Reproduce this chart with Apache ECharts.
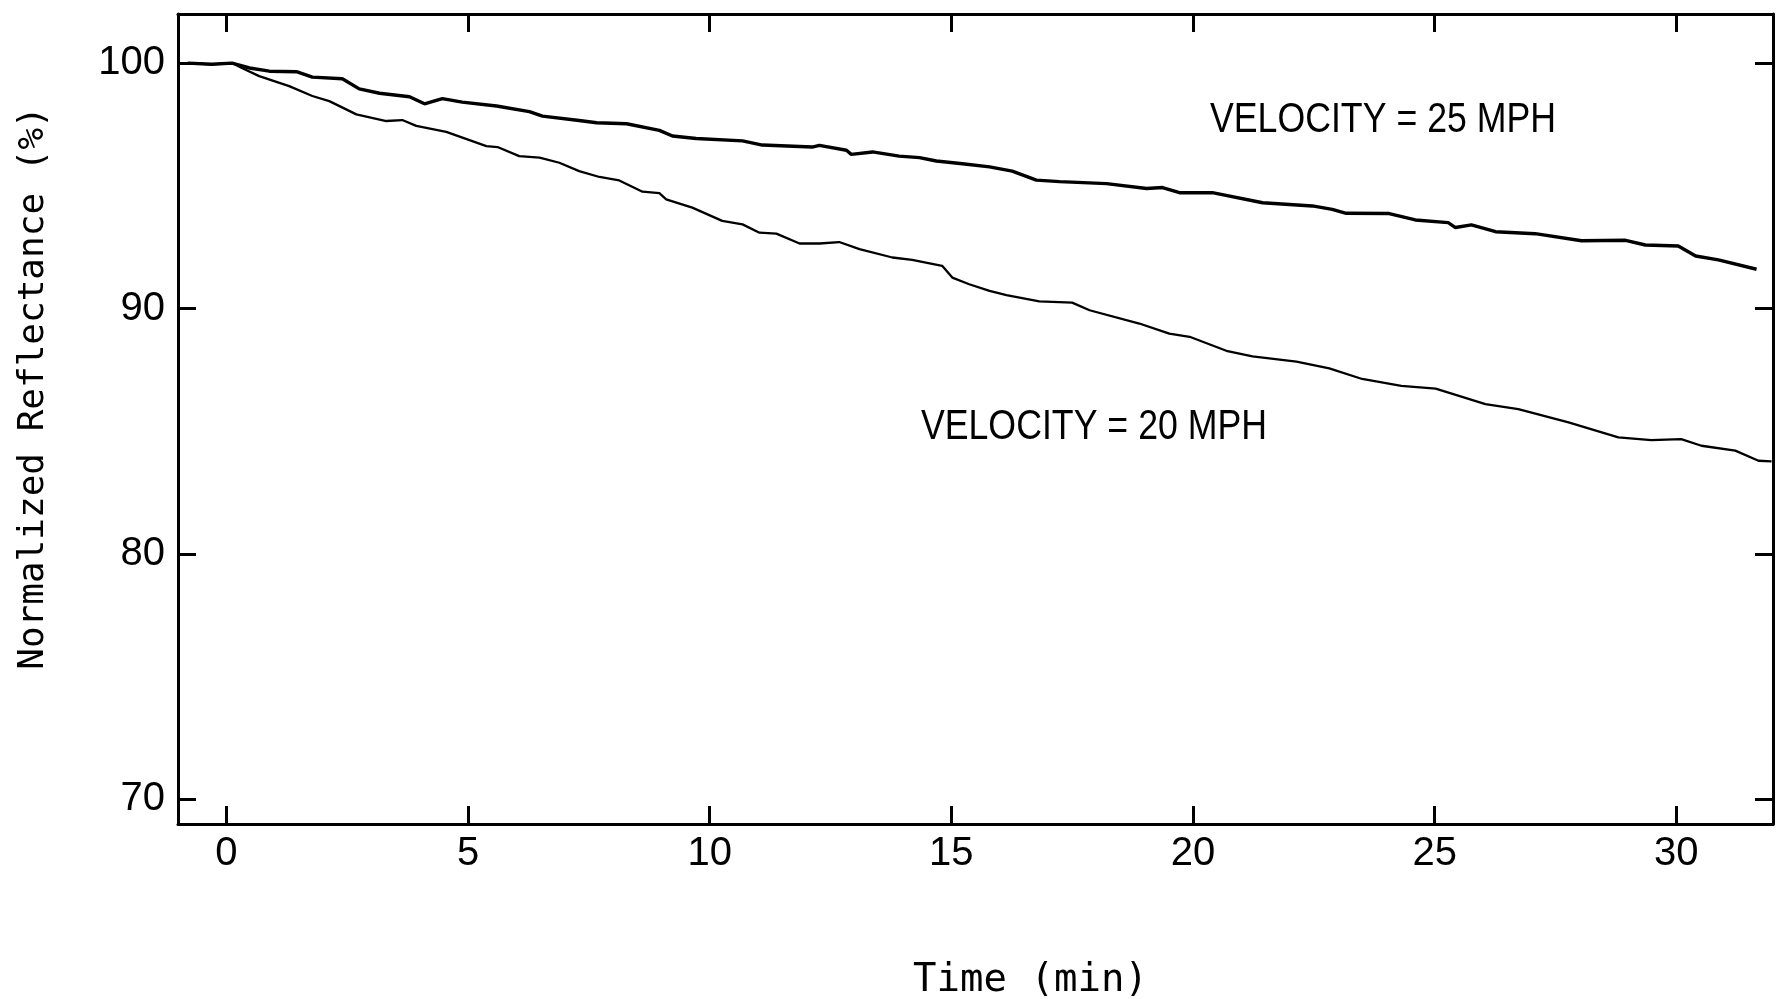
<!DOCTYPE html>
<html>
<head>
<meta charset="utf-8">
<script src="https://cdn.jsdelivr.net/npm/echarts@6/dist/echarts.min.js"></script>
<style>
html,body{margin:0;padding:0;background:#fff;}
#chart{width:1777px;height:999px;}
</style>
</head>
<body>
<div id="chart"></div>
<script>
// ---- data ----
const timeTicks = [0, 5, 10, 15, 20, 25, 30];
const reflTicks = [70, 80, 90, 100];

const time25 = [-0.8, -0.3, 0.12, 0.48, 0.89, 1.45, 1.78, 2.4, 2.75, 3.17, 3.79, 4.1, 4.47, 4.88, 5.59, 6.27, 6.54, 7.3, 7.66, 8.28, 8.96, 9.23, 9.72, 10.68, 11.09, 12.12, 12.27, 12.83, 12.93, 13.37, 13.92, 14.34, 14.69, 15.23, 15.79, 16.26, 16.76, 17.24, 18.21, 19.04, 19.37, 19.72, 20.4, 21.44, 22.47, 22.88, 23.17, 24.06, 24.6, 25.28, 25.43, 25.76, 26.26, 27.08, 28.04, 28.95, 29.36, 30.04, 30.4, 30.87, 31.66];
const refl25 = [100.0, 99.95, 100.0, 99.8, 99.67, 99.65, 99.43, 99.36, 98.95, 98.77, 98.63, 98.34, 98.55, 98.41, 98.25, 98.02, 97.84, 97.66, 97.57, 97.53, 97.26, 97.03, 96.93, 96.83, 96.66, 96.58, 96.65, 96.45, 96.28, 96.38, 96.21, 96.15, 96.01, 95.9, 95.77, 95.6, 95.23, 95.17, 95.09, 94.89, 94.93, 94.72, 94.72, 94.31, 94.18, 94.04, 93.88, 93.87, 93.61, 93.5, 93.3, 93.41, 93.13, 93.05, 92.76, 92.78, 92.59, 92.55, 92.14, 91.98, 91.6];

const time20 = [-0.8, -0.3, 0.12, 0.3, 0.68, 1.3, 1.78, 2.13, 2.69, 3.31, 3.64, 3.93, 4.55, 5.38, 5.61, 6.06, 6.48, 6.89, 7.3, 7.72, 8.13, 8.61, 8.96, 9.1, 9.64, 10.26, 10.68, 11.03, 11.38, 11.86, 12.27, 12.68, 13.1, 13.78, 14.19, 14.81, 15.02, 15.37, 15.79, 16.14, 16.82, 17.5, 17.86, 18.89, 19.51, 19.93, 20.69, 21.23, 22.14, 22.82, 23.5, 24.31, 25.02, 26.05, 26.73, 27.77, 28.8, 29.48, 30.1, 30.52, 31.22, 31.7, 31.97];
const refl20 = [100.0, 99.95, 100.0, 99.82, 99.47, 99.06, 98.66, 98.45, 97.91, 97.64, 97.68, 97.44, 97.2, 96.62, 96.58, 96.21, 96.15, 95.94, 95.6, 95.36, 95.22, 94.76, 94.7, 94.45, 94.11, 93.57, 93.43, 93.09, 93.05, 92.65, 92.65, 92.71, 92.42, 92.08, 91.98, 91.74, 91.26, 90.99, 90.72, 90.55, 90.29, 90.24, 89.93, 89.39, 88.98, 88.85, 88.28, 88.05, 87.84, 87.56, 87.13, 86.85, 86.74, 86.11, 85.9, 85.36, 84.75, 84.64, 84.68, 84.41, 84.21, 83.8, 83.77];

const label25 = 'VELOCITY = 25 MPH';
const label20 = 'VELOCITY = 20 MPH';
const label25At = [20.35, 97.65];
const label20At = [14.37, 85.17];

// ---- chart ----
const zip = (xs, ys) => xs.map((x, i) => [x, ys[i]]);
const tickFont = "'Liberation Sans', 'Arial', sans-serif";
const titleFont = "'DejaVu Sans Mono', monospace";
const noteFont = "'Liberation Sans', sans-serif";
const axisLine = { show: true, onZero: false, lineStyle: { color: '#000', width: 3 } };

function xAx(pos, withLabels) {
  return {
    type: 'value', min: -1, max: 32, position: pos,
    axisLine: axisLine,
    axisTick: { show: true, inside: true, length: 18, customValues: timeTicks, lineStyle: { color: '#000', width: 3 } },
    axisLabel: withLabels ? { show: true, customValues: timeTicks, fontSize: 40, color: '#000', fontFamily: tickFont, margin: 10 } : { show: false },
    splitLine: { show: false },
    name: withLabels ? 'Time (min)' : '',
    nameLocation: 'middle', nameGap: 137,
    nameTextStyle: { fontSize: 39, color: '#000', fontFamily: titleFont, padding: [0, 0, 0, 110] }
  };
}
function yAx(pos, withLabels) {
  return {
    type: 'value', min: 69, max: 102, position: pos,
    axisLine: axisLine,
    axisTick: { show: true, inside: true, length: 18, customValues: reflTicks, lineStyle: { color: '#000', width: 3 } },
    axisLabel: withLabels ? { show: true, customValues: reflTicks, fontSize: 40, color: '#000', fontFamily: tickFont, margin: 13 } : { show: false },
    splitLine: { show: false },
    name: withLabels ? 'Normalized Reflectance (%)' : '',
    nameLocation: 'middle', nameGap: 126,
    nameTextStyle: { fontSize: 36, color: '#000', fontFamily: titleFont, padding: [0, 0, 0, 62] }
  };
}

const chart = echarts.init(document.getElementById('chart'), null, { renderer: 'canvas' });
chart.setOption({
  animation: false,
  backgroundColor: '#fff',
  grid: { left: 178, right: 4, top: 14, bottom: 175, containLabel: false, outerBoundsMode: 'none' },
  xAxis: [xAx('bottom', true), xAx('top', false)],
  yAxis: [yAx('left', true), yAx('right', false)],
  series: [
    {
      name: label25, type: 'line', xAxisIndex: 0, yAxisIndex: 0,
      data: zip(time25, refl25), showSymbol: false, symbol: 'none',
      lineStyle: { color: '#000', width: 3.4 }
    },
    {
      name: label20, type: 'line', xAxisIndex: 0, yAxisIndex: 0,
      data: zip(time20, refl20), showSymbol: false, symbol: 'none',
      lineStyle: { color: '#000', width: 2.3 }
    }
  ]
});

// curve annotations, placed through the chart's own coordinate system
function note(text, at) {
  const p = chart.convertToPixel({ xAxisIndex: 0, yAxisIndex: 0 }, at);
  return {
    type: 'text', x: p[0], y: p[1], scaleX: 0.85, scaleY: 1, silent: true,
    style: { text: text, fontSize: 42, fontFamily: noteFont, fill: '#000', align: 'left', verticalAlign: 'middle' }
  };
}
chart.setOption({ graphic: [note(label25, label25At), note(label20, label20At)] });
</script>
</body>
</html>
